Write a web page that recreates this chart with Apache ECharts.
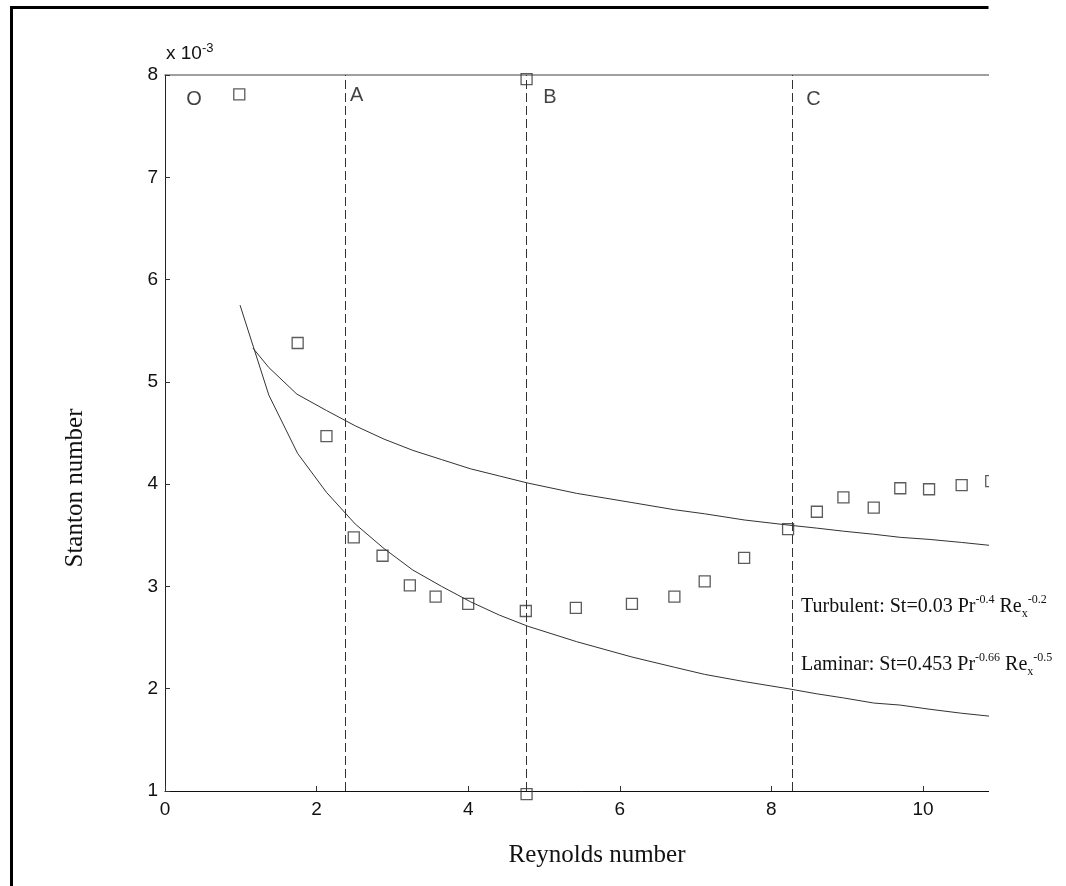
<!DOCTYPE html>
<html>
<head>
<meta charset="utf-8">
<script src="https://cdn.jsdelivr.net/npm/echarts@6/dist/echarts.min.js"></script>
<style>
html,body{margin:0;padding:0;background:#fff;}
#chart{width:1066px;height:886px;}
</style>
</head>
<body>
<div id="chart"></div>
<script>
// Measured Stanton numbers (x 10^-3) vs Reynolds number
const measX = [0.98,1.75,2.13,2.49,2.87,3.23,3.57,4.00,4.76,5.42,6.16,6.72,7.12,7.64,8.22,8.60,8.95,9.35,9.70,10.08,10.51,10.90];
const measY = [7.81,5.38,4.47,3.48,3.30,3.01,2.90,2.83,2.76,2.79,2.83,2.90,3.05,3.28,3.56,3.73,3.87,3.77,3.96,3.95,3.99,4.03];
// Markers at the ends of line B
const endX = [4.77,4.77];
const endY = [7.96,0.97];
// Laminar correlation curve
const lamX = [0.99,1.37,1.75,2.13,2.51,2.89,3.27,3.65,4.03,4.41,4.79,5.43,6.16,6.72,7.12,7.64,8.22,8.60,8.95,9.35,9.70,10.08,10.51,10.90];
const lamY = [5.75,4.87,4.30,3.92,3.61,3.37,3.16,3.00,2.85,2.72,2.61,2.46,2.31,2.21,2.14,2.07,2.00,1.95,1.91,1.86,1.84,1.80,1.76,1.73];
// Turbulent correlation curve
const turbX = [1.16,1.37,1.74,2.13,2.51,2.89,3.27,3.65,4.03,4.41,4.79,5.43,6.16,6.72,7.12,7.64,8.22,8.60,8.95,9.35,9.70,10.08,10.51,10.90];
const turbY = [5.33,5.14,4.88,4.72,4.57,4.44,4.33,4.24,4.15,4.08,4.01,3.91,3.82,3.75,3.71,3.65,3.60,3.57,3.54,3.51,3.48,3.46,3.43,3.40];
// Region dividers and labels
const dividerX = [2.38,4.77,8.28];
const regionNames = ['O','A','B','C'];
const regionX = [0.28,2.44,4.99,8.46];
const regionY = [7.76,7.80,7.78,7.76];
const xTicks = [0,2,4,6,8,10];
const yTicks = [1,2,3,4,5,6,7,8];

const zip = (a,b) => a.map((v,i)=>[v,b[i]]);
const sans = "'Liberation Sans', Arial, sans-serif";
const serif = "'Liberation Serif', 'Times New Roman', serif";

const chart = echarts.init(document.getElementById('chart'));
chart.setOption({
  animation:false,
  backgroundColor:'#fff',
  grid:{left:165, top:75, width:833.8, height:716},
  xAxis:[{
    type:'value', min:0, max:11, interval:2, position:'bottom',
    axisLine:{lineStyle:{color:'#111', width:1}},
    axisTick:{inside:true, length:5, lineStyle:{color:'#333'}},
    splitLine:{show:false},
    axisLabel:{margin:9, fontSize:19, color:'#111', fontFamily:sans,
      formatter:v => xTicks.indexOf(v) >= 0 ? String(v) : ''}
  },{
    type:'value', min:0, max:11, position:'top',
    axisLine:{lineStyle:{color:'#808080', width:1.5}},
    axisTick:{show:false}, axisLabel:{show:false}, splitLine:{show:false}
  }],
  yAxis:{
    type:'value', min:1, max:8, interval:1,
    axisLine:{show:true, lineStyle:{color:'#222', width:1}},
    axisTick:{show:true, inside:true, length:5, lineStyle:{color:'#333'}},
    splitLine:{show:false},
    axisLabel:{margin:7, fontSize:19, color:'#111', fontFamily:sans,
      formatter:v => yTicks.indexOf(v) >= 0 ? String(v) : ''}
  },
  series:[
    {type:'line', data:zip(lamX,lamY), symbol:'none', lineStyle:{color:'#333', width:1}, z:3},
    {type:'line', data:zip(turbX,turbY), symbol:'none', lineStyle:{color:'#333', width:1}, z:3},
    {type:'line', data:[], markLine:{silent:true, symbol:'none', label:{show:false},
      lineStyle:{type:[9,4], color:'#333', width:1},
      data:dividerX.map(x=>({xAxis:x}))}},
    {type:'scatter', data:zip(measX,measY), symbol:'rect', symbolSize:11,
      itemStyle:{color:'none', borderColor:'#333', borderWidth:1.3}, z:4},
    {type:'scatter', data:zip(endX,endY), symbol:'rect', symbolSize:11, clip:false,
      itemStyle:{color:'none', borderColor:'#333', borderWidth:1.3}, z:4},
    {type:'scatter', data:regionX.map((x,i)=>[x,regionY[i],regionNames[i]]), symbolSize:0,
      label:{show:true, position:'right', distance:0, formatter:p=>p.data[2],
        fontSize:20, color:'#111', fontFamily:sans}}
  ],
  graphic:[
    {type:'rect', shape:{x:989, y:0, width:100, height:886}, style:{fill:'#fff'}, z:100, silent:true},
    {type:'line', shape:{x1:11, y1:7.5, x2:988.5, y2:7.5}, style:{stroke:'#000', lineWidth:3}, z:101},
    {type:'line', shape:{x1:11.5, y1:6, x2:11.5, y2:886}, style:{stroke:'#000', lineWidth:3}, z:101},
    {type:'text', z:102, style:{x:166, y:54, text:'{m|x 10}{s|-3}', textVerticalAlign:'middle',
      rich:{m:{fontSize:19, fontFamily:sans, fill:'#111', lineHeight:24},
            s:{fontSize:13, fontFamily:sans, fill:'#111', verticalAlign:'top', lineHeight:12}}}},
    {type:'text', z:102, style:{x:597, y:855, text:'Reynolds number', textAlign:'center', textVerticalAlign:'middle',
      font:'25px '+serif, fill:'#111'}},
    {type:'text', z:102, rotation:Math.PI/2, x:75, y:488, style:{x:0, y:0, text:'Stanton number', textAlign:'center', textVerticalAlign:'middle',
      font:'25px '+serif, fill:'#111'}},
    {type:'text', z:102, style:{x:801, y:607, textVerticalAlign:'middle',
      text:'{m|Turbulent: St=0.03 Pr}{s|-0.4}{m| Re}{b|x}{s|-0.2}',
      rich:{m:{fontSize:20, fontFamily:serif, fill:'#111', lineHeight:26},
            s:{fontSize:12, fontFamily:serif, fill:'#111', verticalAlign:'top', lineHeight:12},
            b:{fontSize:12, fontFamily:serif, fill:'#111', verticalAlign:'bottom', lineHeight:14}}}},
    {type:'text', z:102, style:{x:801, y:665, textVerticalAlign:'middle',
      text:'{m|Laminar: St=0.453 Pr}{s|-0.66}{m| Re}{b|x}{s|-0.5}',
      rich:{m:{fontSize:20, fontFamily:serif, fill:'#111', lineHeight:26},
            s:{fontSize:12, fontFamily:serif, fill:'#111', verticalAlign:'top', lineHeight:12},
            b:{fontSize:12, fontFamily:serif, fill:'#111', verticalAlign:'bottom', lineHeight:14}}}}
  ]
});
</script>
</body>
</html>
